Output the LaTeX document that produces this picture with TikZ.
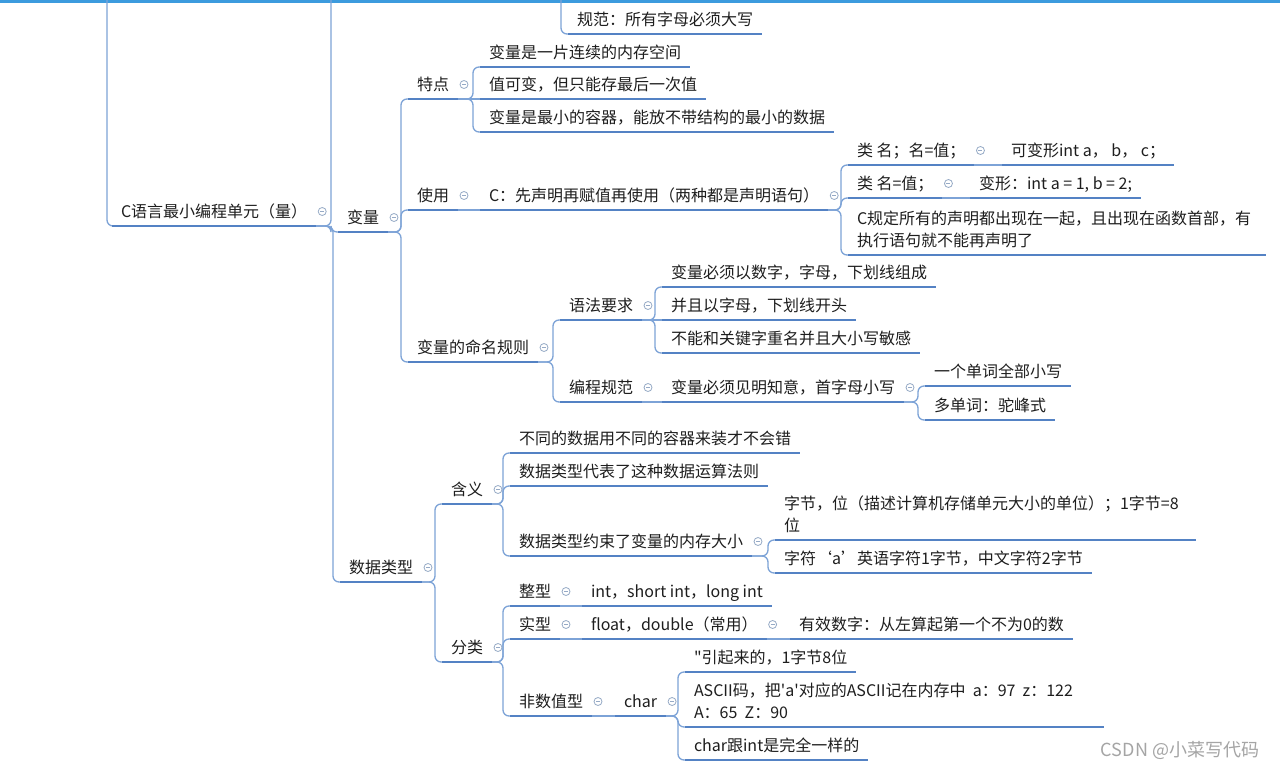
\documentclass[tikz,border=0pt]{standalone}
\usepackage{fontspec}
\newfontfamily\cjk{Noto Sans CJK SC}
\usetikzlibrary{calc}
\definecolor{ulc}{RGB}{84,130,196}
\definecolor{cnc}{RGB}{125,163,215}
\definecolor{txc}{RGB}{30,30,30}
\definecolor{icc}{RGB}{150,170,198}
\definecolor{topc}{RGB}{60,155,222}
\definecolor{wmc}{RGB}{165,165,165}
\newcommand\ml[1]{\begin{tabular}[b]{@{}l@{}}#1\end{tabular}}
\newcommand\linkto[2]{\draw[conn] (#1.south east) -| ($(#2.south west)+(-7,0)$) -- (#2.south west);}
\newcommand\linkstr[2]{\draw[conn] (#1.south east) -- (#2.south west);}
\tikzset{
  topic/.style={anchor=south west, inner xsep=9pt, inner ysep=4.5pt, outer sep=0pt,
    text depth=4pt, text=txc, font=\cjk\fontsize{16}{22}\selectfont},
  conn/.style={draw=cnc, line width=1.3pt, rounded corners=6pt},
  uline/.style={draw=ulc, line width=2.4pt},
  iconst/.style={draw=icc, line width=0.8pt},
  wmark/.style={text=wmc, font=\cjk\fontsize{18}{20}\selectfont}
}
\begin{document}
\begin{tikzpicture}[x=1pt,y=-1pt]
\useasboundingbox (0,0) rectangle (1280,770);
\fill[white] (0,0) rectangle (1280,770);
\draw[topc, line width=3pt] (0,1.5) -- (1280,1.5);

% nodes
\node[topic] (A) at (568,34) {规范：所有字母必须大写};
\node[topic] (B) at (112,226) {C语言最小编程单元（量）\hspace{4pt}};
\node[topic] (C) at (338,232) {变量};
\node[topic] (D) at (408,99) {特点};
\node[topic] (E) at (480,67) {变量是一片连续的内存空间};
\node[topic] (F) at (480,99) {值可变，但只能存最后一次值};
\node[topic] (G) at (480,132) {变量是最小的容器，能放不带结构的最小的数据};
\node[topic] (H) at (408,210) {使用};
\node[topic] (I) at (480,210) {C：先声明再赋值再使用（两种都是声明语句）};
\node[topic] (J) at (848,165) {类 名；名=值；};
\node[topic] (K) at (1002,165) {可变形int a， b， c；};
\node[topic] (L) at (848,198) {类 名=值；};
\node[topic] (M) at (970,198) {变形：int a = 1, b = 2;};
\node[topic] (N) at (848,255) {\ml{C规定所有的声明都出现在一起，且出现在函数首部，有\hspace*{6pt}\\执行语句就不能再声明了}};
\node[topic] (O) at (408,362) {变量的命名规则};
\node[topic] (P) at (560,320) {语法要求};
\node[topic] (Q) at (662,287) {变量必须以数字，字母，下划线组成};
\node[topic] (R) at (662,320) {并且以字母，下划线开头};
\node[topic] (S) at (662,353) {不能和关键字重名并且大小写敏感};
\node[topic] (T) at (560,402) {编程规范};
\node[topic] (U) at (662,402) {变量必须见明知意，首字母小写};
\node[topic] (V) at (925,386) {一个单词全部小写};
\node[topic] (W) at (925,420) {多单词：驼峰式};
\node[topic] (X) at (340,582) {数据类型};
\node[topic] (Y) at (442,504) {含义};
\node[topic] (Z1) at (510,453) {不同的数据用不同的容器来装才不会错};
\node[topic] (Z2) at (510,486) {数据类型代表了这种数据运算法则};
\node[topic] (Z3) at (510,556) {数据类型约束了变量的内存大小};
\node[topic] (Z4) at (775,540) {\ml{字节，位（描述计算机存储单元大小的单位）；1字节=8\hspace*{8pt}\\位}};
\node[topic] (Z5) at (775,573) {字符‘a’英语字符1字节，中文字符2字节};
\node[topic] (AA) at (442,662) {分类};
\node[topic] (AB) at (510,606) {整型};
\node[topic] (AC) at (582,606) {int，short int，long int};
\node[topic] (AD) at (510,639) {实型};
\node[topic] (AE) at (582,639) {float，double（常用）};
\node[topic] (AF) at (790,639) {有效数字：从左算起第一个不为0的数};
\node[topic] (AG) at (510,716) {非数值型};
\node[topic] (AH) at (615,716) {char};
\node[topic] (AI) at (685,672) {"引起来的，1字节8位};
\node[topic] (AJ) at (685,727) {\ml{ASCII码，把'a'对应的ASCII记在内存中\ \ a：97\ \ z：122\hspace*{22pt}\\A：65\ \ Z：90}};
\node[topic] (AK) at (685,760) {char跟int是完全一样的};
\node[wmark] (wm) at (1180,750) {CSDN @小菜写代码};

% off-screen ends
\coordinate (topL) at (107,-2);
\coordinate (offB) at (331,-2);
\coordinate (topA) at (561,-2);

% connectors
\draw[conn] (topL) |- (B.south west);
\draw[conn] (topA) |- (A.south west);
\draw[conn] (B.south east) -| (offB);
\linkto{B}{C}
\linkto{B}{X}
\linkto{C}{D}
\linkto{C}{H}
\linkto{C}{O}
\linkto{D}{E}
\linkstr{D}{F}
\linkto{D}{G}
\linkstr{H}{I}
\linkto{I}{J}
\linkto{I}{L}
\linkto{I}{N}
\linkstr{J}{K}
\linkstr{L}{M}
\linkto{O}{P}
\linkto{O}{T}
\linkto{P}{Q}
\linkstr{P}{R}
\linkto{P}{S}
\linkstr{T}{U}
\linkto{U}{V}
\linkto{U}{W}
\linkto{X}{Y}
\linkto{X}{AA}
\linkto{Y}{Z1}
\linkto{Y}{Z2}
\linkto{Y}{Z3}
\linkto{Z3}{Z4}
\linkto{Z3}{Z5}
\linkto{AA}{AB}
\linkto{AA}{AD}
\linkto{AA}{AG}
\linkstr{AB}{AC}
\linkstr{AD}{AE}
\linkstr{AE}{AF}
\linkstr{AG}{AH}
\linkto{AH}{AI}
\linkto{AH}{AJ}
\linkto{AH}{AK}

% underlines
\foreach \n in {A,B,C,D,E,F,G,H,I,J,K,L,M,N,O,P,Q,R,S,T,U,V,W,X,Y,Z1,Z2,Z3,Z4,Z5,AA,AB,AC,AD,AE,AF,AG,AH,AI,AJ,AK}
  \draw[uline] (\n.south west) -- (\n.south east);

% collapse icons
\foreach \n in {B,C,D,H,I,J,L,O,P,T,U,X,Y,Z3,AA,AB,AD,AE,AG,AH}{
  \draw[iconst, fill=white] ($(\n.south east)+(6,-14.5)$) circle[radius=4pt];
  \draw[iconst] ($(\n.south east)+(4,-14.5)$) -- ++(4,0);
}
\end{tikzpicture}
\end{document}
